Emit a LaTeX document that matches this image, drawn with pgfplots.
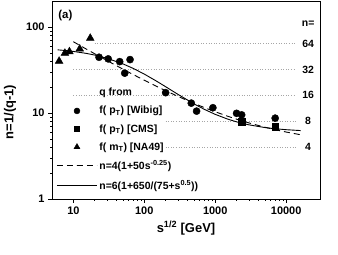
\documentclass[border=0pt]{standalone}
\usepackage{fontspec}
\setmainfont{Liberation Sans}
\usepackage{pgfplots}
\pgfplotsset{compat=1.18}
\begin{document}
\begin{tikzpicture}
\useasboundingbox (-52bp,-56bp) rectangle (286bp,199bp);
\begin{axis}[
  scale only axis, width=268bp, height=198bp,
  xmode=log, ymode=log, clip=false,
  xmin=5, xmax=30000, ymin=1, ymax=200,
  axis line style={line width=0.8pt},
  tick align=outside, tick pos=left,
  major tick length=4bp, minor tick length=2bp,
  tick style={line width=0.6pt, black},
  xtick={10,100,1000,10000}, xticklabels={10,100,1000,10000},
  ytick={1,10,100}, yticklabels={1,10,100},
  /pgf/number format/assume math mode=true,
  ticklabel style={font=\bfseries\fontsize{11}{13}\selectfont},
  xlabel={s\textsuperscript{1/2} [GeV]},
  label style={font=\bfseries\fontsize{13}{15}\selectfont},
  legend style={at={(0.005,0.58)}, anchor=north west, draw=none, fill=none,
    font=\bfseries\fontsize{10.5}{12}\selectfont, row sep=5pt},
  legend cell align=left,
  legend image code/.code={\draw[mark repeat=2,mark phase=2] plot coordinates {(0bp,0bp) (20bp,0bp) (40bp,0bp)};},
]
% reference dotted lines
\addplot[gray!70, dotted, line width=0.6pt, forget plot] coordinates {(20,64) (13400,64)};
\addplot[gray!70, dotted, line width=0.6pt, forget plot] coordinates {(10,32) (13400,32)};
\addplot[gray!70, dotted, line width=0.6pt, forget plot] coordinates {(10,16) (13400,16)};
\addplot[gray!70, dotted, line width=0.6pt, forget plot] coordinates {(200,8) (13400,8)};
\addplot[gray!70, dotted, line width=0.6pt, forget plot] coordinates {(200,4) (13400,4)};
% data
\addplot[only marks, mark=*, mark size=3.6pt, black, forget plot] coordinates {
(23,44.4) (31,42.5) (45,39.5) (53,29) (63,41.7) (200,17.2) (460,13) (546,10.5) (927,11.5) (2000,9.9) (2360,9.5) (7000,8.7)};
\addplot[only marks, mark=square*, mark size=3.2pt, black, forget plot] coordinates {
(2360,7.9) (7000,6.9)};
\addplot[only marks, mark=triangle*, mark size=4.5pt, black, forget plot] coordinates {
(6.3,40) (7.6,49.5) (8.8,51.6) (12.3,55.5) (17.3,74)};
% curves
\addplot[black, dash pattern=on 6bp off 4bp, line width=0.9pt, forget plot] coordinates {
(10,67.25) (15,55.64) (20,48.72) (30,40.51) (50,32.28) (70,27.90) (100,24) (150,20.33) (200,18.14) (300,15.55) (500,12.94) (700,11.56) (1000,10.32) (1500,9.16) (2000,8.47) (3000,7.65) (5000,6.83) (7000,6.39) (10000,6) (16000,5.58)};
\addplot[black, solid, line width=0.9pt, forget plot] coordinates {
(6,54.15) (8,52.99) (10,51.88) (15,49.33) (20,47.05) (30,43.14) (50,37.2) (70,32.90) (100,28.29) (150,23.33) (200,20.18) (300,16.4) (500,12.78) (700,11.03) (1000,9.63) (1500,8.48) (2000,7.88) (3000,7.27) (5000,6.77) (7000,6.55) (10000,6.39) (16000,6.24)};
% legend
\addlegendimage{empty legend}
\addlegendentry{q from}
\addlegendimage{only marks, mark=*, mark size=3pt, black}
\addlegendentry{f( p\textsubscript{T}) [Wibig]}
\addlegendimage{only marks, mark=square*, mark size=2.6pt, black}
\addlegendentry{f( p\textsubscript{T}) [CMS]}
\addlegendimage{only marks, mark=triangle*, mark size=3.5pt, black}
\addlegendentry{f( m\textsubscript{T}) [NA49]}
\addlegendimage{black, dash pattern=on 6bp off 4bp, line width=0.9pt}
\addlegendentry{n=4(1+50s\textsuperscript{-0.25})}
\addlegendimage{black, solid, line width=0.9pt}
\addlegendentry{n=6(1+650/(75+s\textsuperscript{0.5}))}
% labels
\node[rotate=90, font=\bfseries\fontsize{13}{15}\selectfont] at (rel axis cs:-0.157,0.44) {n=1/(q-1)};
\node[font=\bfseries\fontsize{11.5}{13}\selectfont] at (rel axis cs:0.05,0.925) {(a)};
\node[font=\bfseries\fontsize{10.5}{12}\selectfont] at (axis cs:20400,108) {n=};
\node[font=\bfseries\fontsize{10.5}{12}\selectfont] at (axis cs:20400,64) {64};
\node[font=\bfseries\fontsize{10.5}{12}\selectfont] at (axis cs:20400,32) {32};
\node[font=\bfseries\fontsize{10.5}{12}\selectfont] at (axis cs:20400,16) {16};
\node[font=\bfseries\fontsize{10.5}{12}\selectfont] at (axis cs:20400,8) {8};
\node[font=\bfseries\fontsize{10.5}{12}\selectfont] at (axis cs:20400,4) {4};
\end{axis}
\end{tikzpicture}
\end{document}
